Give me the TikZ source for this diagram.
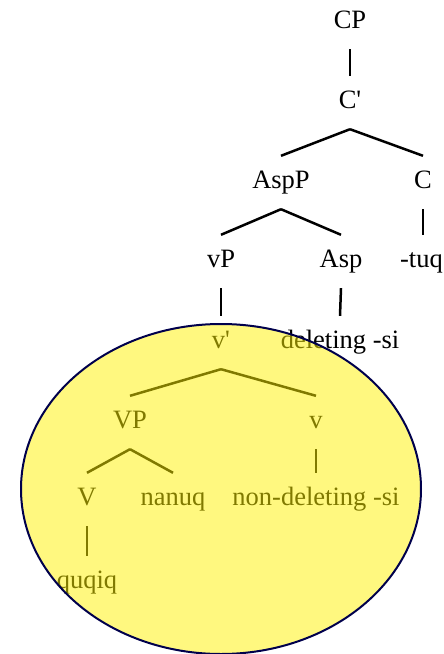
\documentclass[tikz,border=0pt]{standalone}
\usepackage{fontspec}
\setmainfont{Liberation Serif}
\newcommand\pr{\textquotesingle}
\begin{document}
\begin{tikzpicture}[x=1pt,y=-1pt,
  lbl/.style={font=\fontsize{26.5}{30}\selectfont, inner sep=0pt,
              text height=17pt, text depth=6pt, anchor=base},
  edge/.style={line width=2.5pt},
  focus/.style={draw=blue!30!black, line width=2pt,
                fill=yellow, fill opacity=0.5, draw opacity=1}]
  \useasboundingbox (0,0) rectangle (444,654);

  % labels of the tree, row by row
  \node[lbl] (CP)    at (350,28)  {CP};
  \node[lbl] (Cbar)  at (350,108) {C\pr};
  \node[lbl] (AspP)  at (281,188) {AspP};
  \node[lbl] (C)     at (423,188) {C};
  \node[lbl] (vP)    at (221,267) {vP};
  \node[lbl] (Asp)   at (341,267) {Asp};
  \node[lbl, anchor=base east] (tuq) at (443,267) {-tuq};
  \node[lbl] (vbar)  at (221,348) {v\pr};
  \node[lbl] (del)   at (340,348) {deleting -si};
  \node[lbl] (VP)    at (130,428) {VP};
  \node[lbl] (v)     at (316,428) {v};
  \node[lbl] (V)     at (87,505)  {V};
  \node[lbl] (nanuq) at (173,505) {nanuq};
  \node[lbl] (nondel) at (316,505) {non-deleting -si};
  \node[lbl] (quqiq) at (87,588)  {quqiq};

  % branches: from just below the mother to just above the daughter
  \foreach \m/\n in {CP/Cbar, Cbar/AspP, Cbar/C, AspP/vP, AspP/Asp,
                     vP/vbar, Asp/del, vbar/VP, vbar/v, VP/V, VP/nanuq,
                     v/nondel, V/quqiq}
    \draw[edge] ([yshift=-15pt]\m.south) -- ([yshift=15pt]\n.north);
  \draw[edge] ([yshift=-15pt]C.south) -- ([yshift=15pt]C.south |- tuq.north);

  % highlighted vP region
  \draw[focus] (221,489) ellipse [x radius=200, y radius=165];
\end{tikzpicture}
\end{document}
